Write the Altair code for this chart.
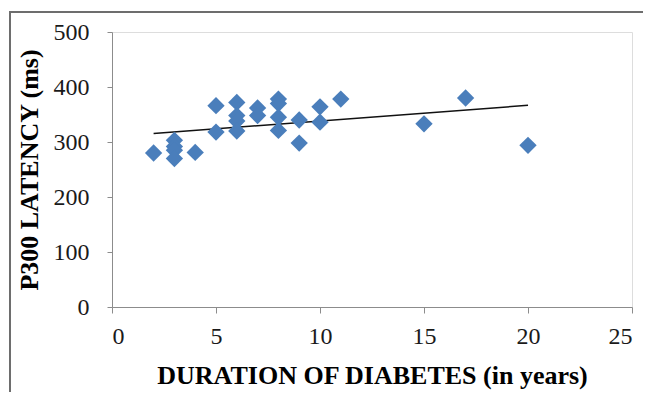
import altair as alt
import pandas as pd

duration = [2, 3, 3, 3, 3, 4, 5, 5, 6, 6, 6, 6, 7, 7, 8, 8, 8, 8, 9, 9, 10, 10, 11, 15, 17, 20]
latency = [280, 303, 292, 285, 270, 281, 366, 318, 372, 348, 338, 320, 362, 348,
           378, 370, 345, 321, 340, 298, 364, 336, 378, 333, 380, 294]

x_ticks = [0, 5, 10, 15, 20, 25]
y_ticks = [0, 100, 200, 300, 400, 500]

df = pd.DataFrame({"duration": duration, "latency": latency})

FONT = "Liberation Serif"
BLUE = "#4a7ebb"

x_enc = alt.X(
    "duration:Q",
    scale=alt.Scale(domain=[0, 25], nice=False),
    axis=alt.Axis(values=x_ticks, title="DURATION OF DIABETES (in years)", grid=False,
                  domainColor="#8c8c8c", tickColor="#8c8c8c", tickSize=6,
                  labelFont=FONT, labelFontSize=24, labelColor="#1a1a1a", labelPadding=11,
                  titleFont=FONT, titleFontSize=26, titleFontWeight="bold", titleColor="#000000",
                  titlePadding=14),
)
y_enc = alt.Y(
    "latency:Q",
    scale=alt.Scale(domain=[0, 500], nice=False),
    axis=alt.Axis(values=y_ticks, title="P300 LATENCY (ms)", grid=False,
                  domainColor="#8c8c8c", tickColor="#8c8c8c", tickSize=5,
                  labelFont=FONT, labelFontSize=24, labelColor="#1a1a1a", labelPadding=18,
                  titleFont=FONT, titleFontSize=26, titleFontWeight="bold", titleColor="#000000",
                  titlePadding=11),
)

points = alt.Chart(df).mark_point(shape="diamond", filled=True, size=300, color=BLUE, opacity=1).encode(
    x=x_enc, y=y_enc
)

trend = alt.Chart(df).transform_regression(
    "duration", "latency", extent=[2, 20]
).mark_line(color="#111111", strokeWidth=1.5).encode(x="duration:Q", y="latency:Q")

border = alt.Chart(df).mark_rect(fill=None, stroke="#6e6e6e", strokeWidth=1.6).encode(
    x=alt.value(-102), x2=alt.value(700), y=alt.value(-20), y2=alt.value(500)
)

chart = alt.layer(border, trend, points).properties(
    width=520,
    height=275,
    autosize=alt.AutoSizeParams(type="none"),
    padding={"left": 104, "top": 24, "right": 11, "bottom": 85},
).configure_view(stroke=None).configure(background="white")

chart.save("out.html", embed_options={"renderer": "svg", "actions": False})
